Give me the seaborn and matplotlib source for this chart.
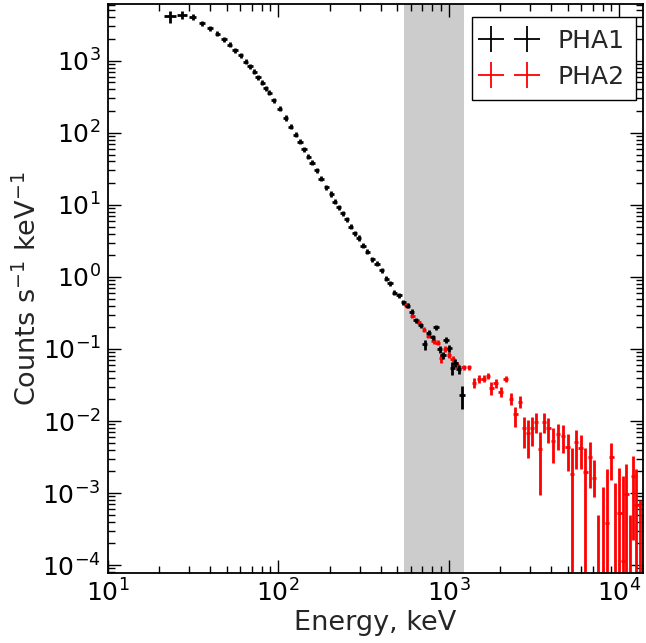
import numpy as np
import pandas as pd
import matplotlib
matplotlib.use('Agg')
import matplotlib.pyplot as plt
import seaborn as sns
from matplotlib.lines import Line2D

# PHA1 spectrum (keV, counts/s/keV)
black_energy = [23.2, 27.2, 31.5, 35.8, 39.8, 43.9, 48.1, 52.1, 55.8, 60.2,
                64.4, 68.3, 72.3, 76.3, 80.6, 84.4, 88.6, 94.4, 102.3, 110.5,
                118.2, 126.5, 134.6, 142, 150, 158, 168, 178.6, 192, 204.5,
                214.9, 226.9, 239.5, 251.6, 265.6, 280.5, 297.2, 315, 334, 357,
                380, 405, 430, 453, 481, 512, 543, 574, 608, 639,
                684, 724, 764, 804, 844, 887, 927, 966, 1011, 1052,
                1096, 1146, 1199]
black_counts = [4120, 4355, 4045, 3340, 2845, 2370, 2000, 1667, 1390, 1185,
                969, 834, 703, 594, 495, 418, 360, 284, 215, 161,
                122, 94.7, 75.7, 59.4, 46.9, 38.7, 30.3, 23.0, 17.6, 14.2,
                11.0, 9.29, 7.67, 6.33, 5.0, 4.05, 3.48, 2.72, 2.25, 1.76,
                1.53, 1.24, 0.946, 0.826, 0.605, 0.557, 0.446, 0.399, 0.330, 0.251,
                0.215, 0.116, 0.168, 0.145, 0.202, 0.100, 0.0818, 0.133, 0.103, 0.054,
                0.0645, 0.0523, 0.0228]
black_xerr = [1.95, 1.8, 1.5, 1.3, 1.4, 1.55, 1.7, 1.85, 2.0, 2.1,
              2.3, 2.4, 2.55, 2.7, 2.85, 3.0, 3.1, 3.3, 3.6, 3.9,
              4.2, 4.5, 4.8, 5.0, 5.3, 5.6, 5.9, 6.3, 6.8, 7.2,
              7.6, 8.0, 8.4, 8.9, 9.4, 9.9, 10.5, 11.1, 11.8, 12.6,
              13.4, 14.3, 15.2, 16.0, 17.0, 18.1, 19.2, 20.3, 21.5, 22.6,
              24.2, 25.6, 27, 28.4, 29.8, 31.4, 32.8, 34.1, 35.7, 37.2,
              38.7, 40.5, 42.4]
black_yerr = [740, 560, 400, 270, 230, 190, 160, 135, 110, 95,
              78, 67, 56, 48, 40, 33, 29, 23, 17, 13,
              9.8, 7.6, 6.1, 4.8, 3.8, 3.1, 2.4, 1.8, 1.4, 1.14,
              0.88, 0.74, 0.61, 0.51, 0.40, 0.32, 0.28, 0.22, 0.18, 0.14,
              0.12, 0.10, 0.076, 0.066, 0.048, 0.045, 0.036, 0.032, 0.026, 0.020,
              0.018, 0.018, 0.014, 0.013, 0.016, 0.011, 0.009, 0.013, 0.011, 0.011,
              0.009, 0.008, 0.008]

# PHA2 spectrum
red_energy = [566, 613, 665, 718, 761, 815, 860, 903, 957, 1005,
              1056, 1119, 1226, 1317, 1409, 1510, 1607, 1700, 1782, 1888,
              2021, 2161, 2321, 2464, 2621, 2767, 2920, 3082, 3253, 3434,
              3625, 3846, 4093, 4378, 4684, 4990, 5290, 5582, 5948, 6339,
              6745, 7138, 7551, 8005, 8482, 9000, 9500, 10030, 10530, 11020,
              11520, 12050, 12610, 13190, 13790]
red_counts = [0.408, 0.290, 0.239, 0.185, 0.152, 0.130, 0.122, 0.0743, 0.101, 0.0833,
              0.0726, 0.060, 0.0557, 0.0557, 0.0340, 0.0383, 0.0389, 0.0428, 0.0285, 0.0334,
              0.0255, 0.0383, 0.0202, 0.0124, 0.0182, 0.00792, 0.00675, 0.00792, 0.00977, 0.00404,
              0.00977, 0.00792, 0.00532, 0.00659, 0.00619, 0.00435, 0.00182, 0.00516, 0.00426, 0.00198,
              0.00319, 0.00163, -0.0002, -0.0003, 0.00038, 0.00319, -0.0003, 0.00053, 0.000114, 0.00096,
              -0.0004, 0.00172, 0.00068, -0.0003, -0.0005]
red_xerr = [18, 19, 21, 22.5, 24, 25.5, 27, 28, 30, 31.5,
            33, 35, 38, 41, 44, 47, 50, 53, 55, 59,
            63, 67, 72, 76, 81, 85, 90, 95, 100, 106,
            112, 118, 126, 135, 144, 154, 163, 172, 183, 195,
            208, 220, 233, 247, 261, 277, 293, 309, 325, 340,
            356, 372, 389, 407, 426]
red_yerr_lo = [0.033, 0.023, 0.019, 0.015, 0.012, 0.011, 0.010, 0.011, 0.009, 0.008,
               0.007, 0.006, 0.005, 0.005, 0.005, 0.005, 0.004, 0.004, 0.0055, 0.0049,
               0.0037, 0.0038, 0.0035, 0.0041, 0.0032, 0.0037, 0.0037, 0.0034, 0.0030, 0.0031,
               0.0029, 0.0029, 0.0027, 0.0026, 0.0026, 0.0023, 0.0024, 0.0030, 0.0021, 0.0022,
               0.0020, 0.00074, 0.0007, 0.0015, 0.00175, 0.00167, 0.00166, 0.00167, 0.0016, 0.0016,
               0.0009, 0.0015, 0.00145, 0.0011, 0.001]
red_yerr_hi = [0.033, 0.023, 0.019, 0.015, 0.012, 0.011, 0.010, 0.011, 0.009, 0.008,
               0.007, 0.006, 0.005, 0.005, 0.005, 0.005, 0.004, 0.004, 0.0066, 0.0045,
               0.0044, 0.0043, 0.0041, 0.0034, 0.0040, 0.0036, 0.0036, 0.0033, 0.0030, 0.0031,
               0.0030, 0.0030, 0.0026, 0.0025, 0.0025, 0.0022, 0.0024, 0.0023, 0.0021, 0.0022,
               0.0020, 0.00125, 0.0007, 0.0015, 0.00175, 0.00171, 0.00166, 0.00167, 0.0016, 0.0016,
               0.0009, 0.00155, 0.00145, 0.0011, 0.001]

band = (550, 1230)  # shaded energy range, keV
labels = ['PHA1', 'PHA2']

sns.set_theme(style='ticks')
plt.rcParams['font.family'] = ['DejaVu Sans']
plt.rcParams['mathtext.fontset'] = 'dejavusans'
plt.rcParams.update({
    'xtick.direction': 'in', 'ytick.direction': 'in',
    'xtick.top': True, 'ytick.right': True,
    'xtick.major.size': 9.5, 'ytick.major.size': 9.5,
    'xtick.minor.size': 4.7, 'ytick.minor.size': 4.7,
    'xtick.major.width': 1.0, 'ytick.major.width': 1.0,
    'xtick.minor.width': 1.0, 'ytick.minor.width': 1.0,
    'xtick.major.pad': 5, 'ytick.major.pad': 5,
    'axes.linewidth': 1.3, 'axes.edgecolor': 'black',
    'xtick.color': 'black', 'ytick.color': 'black',
})

df1 = pd.DataFrame({'E': black_energy, 'C': black_counts, 'dE': black_xerr, 'dC': black_yerr})
df2 = pd.DataFrame({'E': red_energy, 'C': red_counts, 'dE': red_xerr,
                    'lo': red_yerr_lo, 'hi': red_yerr_hi})

fig = plt.figure(figsize=(6.46, 6.43), dpi=100)
ax = fig.add_axes([0.1667, 0.109, 0.8287, 0.8845])
ax.set_xscale('log')
ax.set_yscale('log')

ax.axvspan(band[0], band[1], color='#cccccc', lw=0, zorder=0)

ax.errorbar(df2['E'], df2['C'], xerr=df2['dE'], yerr=[df2['lo'], df2['hi']],
            fmt='none', ecolor='#ff0000', elinewidth=2.0, capsize=0, zorder=2)
ax.errorbar(df1['E'], df1['C'], xerr=df1['dE'], yerr=df1['dC'],
            fmt='none', ecolor='black', elinewidth=2.0, capsize=0, zorder=3)

ax.set_xlim(10, 1.38e4)
ax.set_ylim(7.8e-5, 6.1e3)
ax.tick_params(which='both', labelsize=18)
ax.set_xlabel('Energy, keV', fontsize=19.5, labelpad=2)
ax.set_ylabel('Counts s$^{-1}$ keV$^{-1}$', fontsize=19.5, labelpad=0)

handles = [Line2D([], [], color='black', marker='+', ls='none', markersize=19, mew=1.3),
           Line2D([], [], color='#ff0000', marker='+', ls='none', markersize=19, mew=1.3)]
leg = ax.legend(handles, labels, numpoints=2, loc='upper right',
                bbox_to_anchor=(0.986, 0.977), borderaxespad=0, fontsize=18,
                fancybox=False, framealpha=1, edgecolor='black',
                handlelength=2.05, handletextpad=0.9, borderpad=0.45, labelspacing=0.5)
leg.get_frame().set_linewidth(1.0)

fig.savefig('out.png', dpi=100)
